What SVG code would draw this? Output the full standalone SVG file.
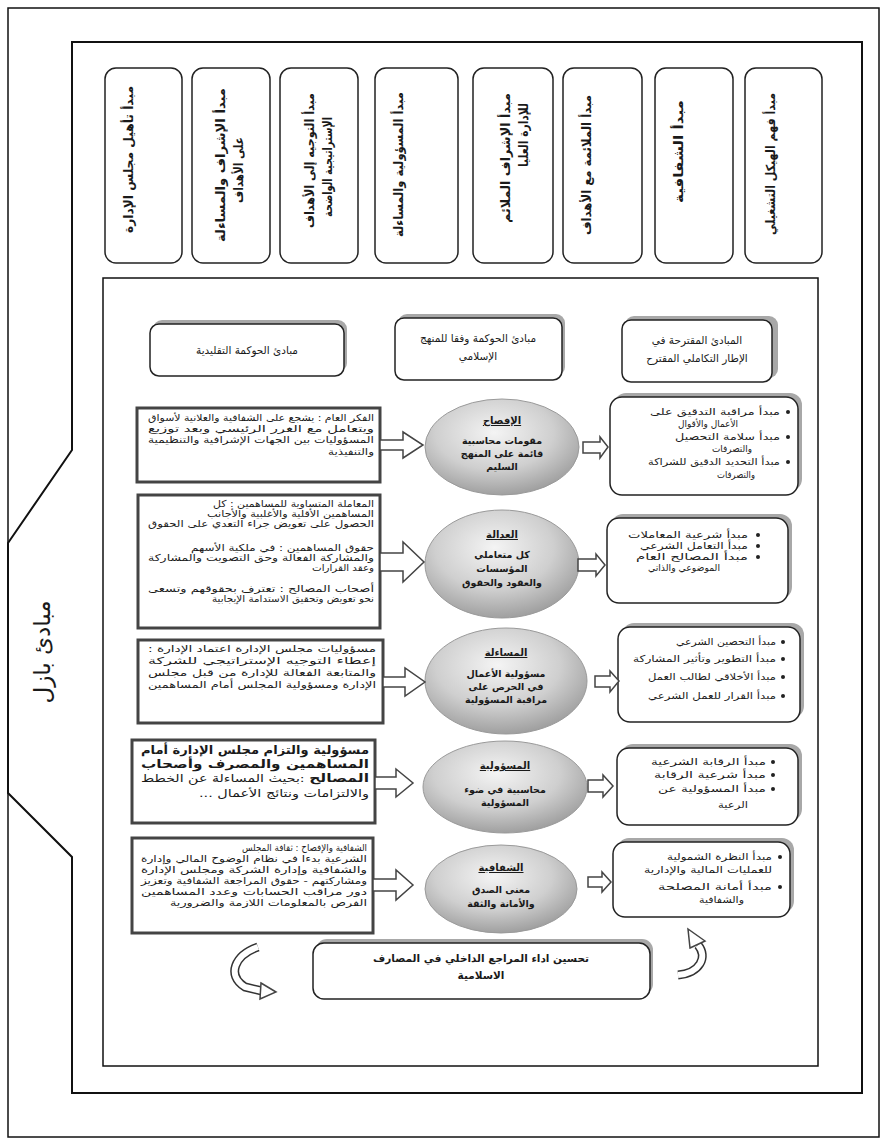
<svg xmlns="http://www.w3.org/2000/svg" width="887" height="1144" viewBox="0 0 887 1144">
<style>
text{font-family:"DejaVu Sans","Noto Sans",sans-serif;direction:rtl;fill:#1a1a1a}
.vt{font-size:12.5px;font-weight:bold;text-anchor:start}
.hd{font-size:10.5px;text-anchor:middle}
.et{font-size:9.5px;font-weight:bold;text-anchor:middle}
.eh{font-size:10px;font-weight:bold;text-anchor:middle;text-decoration:underline}
.bt{font-size:9.5px;text-anchor:start}
.lt{font-size:9.5px;text-anchor:start}
.lb{font-size:11.5px;font-weight:bold;text-anchor:start}
.tb{fill:#fff;stroke:#222;stroke-width:1.5}
.sh{fill:#a8a8a8}
.lbx{fill:#fff;stroke:#444;stroke-width:3}
.ar{fill:#fff;stroke:#444;stroke-width:1.5;stroke-linejoin:miter}
.ell{fill:url(#eg);stroke:#9a9a9a;stroke-width:1}
.bul{fill:#222}
</style>
<defs>
<radialGradient id="eg" cx="45%" cy="35%" r="70%">
<stop offset="0" stop-color="#f4f4f4"/>
<stop offset="0.55" stop-color="#cfcfcf"/>
<stop offset="1" stop-color="#979797"/>
</radialGradient>
</defs>
<rect width="887" height="1144" fill="#fff"/>
<g id="frame" fill="none" stroke="#111">
<rect x="8" y="8" width="871" height="1129" stroke-width="1.5"/>
<path d="M72,42 H862 V1093 H72 V857 L8,793 V543 L72,450 Z" stroke-width="2"/>
<rect x="103" y="278" width="715" height="788" stroke-width="1.5"/>
</g>
<g id="basel-label"><text transform="translate(50,652) rotate(-90)" style="font-size:23px;text-anchor:middle">مبادئ بازل</text></g>
<g id="top-principles">
<g id="p1"><rect class="tb" x="105" y="68" width="77" height="195" rx="11"/><text class="vt" transform="translate(133,86) rotate(-90)" textLength="147" lengthAdjust="spacingAndGlyphs">مبدأ تأهيل مجلس الإدارة</text></g>
<g id="p2"><rect class="tb" x="192" y="68" width="78" height="195" rx="11"/><text class="vt" transform="translate(225,88) rotate(-90)" textLength="154" lengthAdjust="spacingAndGlyphs">مبدأ الإشراف والمساءلة</text><text class="vt" transform="translate(243,137) rotate(-90)" textLength="66" lengthAdjust="spacingAndGlyphs">على الأهداف</text></g>
<g id="p3"><rect class="tb" x="280" y="68" width="78" height="195" rx="11"/><text class="vt" transform="translate(314,93) rotate(-90)" textLength="135" lengthAdjust="spacingAndGlyphs">مبدأ التوجيه إلى الأهداف</text><text class="vt" transform="translate(332,117) rotate(-90)" textLength="100" lengthAdjust="spacingAndGlyphs">الإستراتيجية الواضحة</text></g>
<g id="p4"><rect class="tb" x="375" y="68" width="83" height="195" rx="11"/><text class="vt" transform="translate(403,92) rotate(-90)" textLength="145" lengthAdjust="spacingAndGlyphs">مبدأ المسؤولية والمساءلة</text></g>
<g id="p5"><rect class="tb" x="473" y="68" width="80" height="195" rx="11"/><text class="vt" transform="translate(510,93) rotate(-90)" textLength="130" lengthAdjust="spacingAndGlyphs">مبدأ الإشراف الملائم</text><text class="vt" transform="translate(528,103) rotate(-90)" textLength="64" lengthAdjust="spacingAndGlyphs">للإدارة العليا</text></g>
<g id="p6"><rect class="tb" x="563" y="68" width="79" height="195" rx="11"/><text class="vt" transform="translate(591,95) rotate(-90)" textLength="140" lengthAdjust="spacingAndGlyphs">مبدأ الملائمة مع الأهداف</text></g>
<g id="p7"><rect class="tb" x="655" y="68" width="78" height="195" rx="11"/><text class="vt" transform="translate(683,100) rotate(-90)" textLength="103" lengthAdjust="spacingAndGlyphs">مبدأ الشفافية</text></g>
<g id="p8"><rect class="tb" x="745" y="68" width="77" height="195" rx="11"/><text class="vt" transform="translate(775,93) rotate(-90)" textLength="142" lengthAdjust="spacingAndGlyphs">مبدأ فهم الهيكل التشغيلي</text></g>
</g>
<g id="headers">
<g id="h-traditional"><rect class="sh" x="153" y="320" width="194" height="52" rx="9"/><rect class="tb" x="150" y="324" width="194" height="52" rx="9"/><text class="hd" x="247" y="354">مبادئ الحوكمة التقليدية</text></g>
<g id="h-islamic"><rect class="sh" x="398" y="314" width="167" height="62" rx="9"/><rect class="tb" x="395" y="318" width="167" height="62" rx="9"/><text class="hd" x="478" y="342">مبادئ الحوكمة وفقا للمنهج</text><text class="hd" x="478" y="360">الإسلامي</text></g>
<g id="h-proposed"><rect class="sh" x="625" y="316" width="153" height="62" rx="9"/><rect class="tb" x="622" y="320" width="150" height="62" rx="9"/><text class="hd" x="697" y="344">المبادئ المقترحة في</text><text class="hd" x="697" y="362">الإطار التكاملي المقترح</text></g>
</g>
<g id="left-boxes">
<g id="l1"><rect class="lbx" x="137" y="408" width="243" height="74"/>
<text class="lt" x="374" y="421" textLength="226" lengthAdjust="spacingAndGlyphs">الفكر العام : يشجع على الشفافية والعلانية لأسواق</text>
<text class="lt" x="374" y="432" textLength="226" lengthAdjust="spacingAndGlyphs">ويتعامل مع الغرر الرئيسي وبعد توزيع</text>
<text class="lt" x="374" y="443" textLength="226" lengthAdjust="spacingAndGlyphs">المسؤوليات بين الجهات الإشرافية والتنظيمية</text>
<text class="lt" x="374" y="455" textLength="46" lengthAdjust="spacingAndGlyphs">والتنفيذية</text></g>
<g id="l2"><rect class="lbx" x="138" y="495" width="242" height="133"/>
<text class="lt" x="374" y="507" textLength="161" lengthAdjust="spacingAndGlyphs">المعاملة المتساوية للمساهمين : كل</text>
<text class="lt" x="374" y="517" textLength="167" lengthAdjust="spacingAndGlyphs">المساهمين الأقلية والأغلبية والأجانب</text>
<text class="lt" x="374" y="527" textLength="226" lengthAdjust="spacingAndGlyphs">الحصول على تعويض جراء التعدي على الحقوق</text>
<text class="lt" x="374" y="551" textLength="183" lengthAdjust="spacingAndGlyphs">حقوق المساهمين : في ملكية الأسهم</text>
<text class="lt" x="374" y="561" textLength="226" lengthAdjust="spacingAndGlyphs">والمشاركة الفعالة وحق التصويت والمشاركة</text>
<text class="lt" x="374" y="571" textLength="62" lengthAdjust="spacingAndGlyphs">وعقد القرارات</text>
<text class="lt" x="374" y="592" textLength="226" lengthAdjust="spacingAndGlyphs">أصحاب المصالح : تعترف بحقوقهم وتسعى</text>
<text class="lt" x="374" y="602" textLength="162" lengthAdjust="spacingAndGlyphs">نحو تعويض وتحقيق الاستدامة الإيجابية</text></g>
<g id="l3"><rect class="lbx" x="138" y="640" width="245" height="83"/>
<text class="lt" x="376" y="652" textLength="228" lengthAdjust="spacingAndGlyphs">مسؤوليات مجلس الإدارة اعتماد الإدارة :</text>
<text class="lt" x="376" y="664" textLength="228" lengthAdjust="spacingAndGlyphs">إعطاء التوجيه الإستراتيجي للشركة</text>
<text class="lt" x="376" y="676" textLength="228" lengthAdjust="spacingAndGlyphs">والمتابعة الفعالة للإدارة من قبل مجلس</text>
<text class="lt" x="376" y="688" textLength="228" lengthAdjust="spacingAndGlyphs">الإدارة ومسؤولية المجلس أمام المساهمين</text></g>
<g id="l4"><rect class="lbx" x="132" y="740" width="243" height="83"/>
<text class="lb" x="369" y="754" textLength="228" lengthAdjust="spacingAndGlyphs">مسؤولية والتزام مجلس الإدارة أمام</text>
<text class="lb" x="369" y="768" textLength="228" lengthAdjust="spacingAndGlyphs">المساهمين والمصرف وأصحاب</text>
<text class="lt" x="369" y="782" style="font-size:10.5px" textLength="228" lengthAdjust="spacingAndGlyphs"><tspan font-weight="bold" font-size="11.5">المصالح</tspan> :بحيث المساءلة عن الخطط</text>
<text class="lt" x="369" y="797" style="font-size:10.5px" textLength="170" lengthAdjust="spacingAndGlyphs">والالتزامات ونتائج الأعمال ...</text></g>
<g id="l5"><rect class="lbx" x="132" y="838" width="241" height="95"/>
<text class="lt" x="367" y="851" textLength="125" lengthAdjust="spacingAndGlyphs">الشفافية والإفصاح : ثقافة المجلس</text>
<text class="lt" x="367" y="862" textLength="226" lengthAdjust="spacingAndGlyphs">الشرعية بدءا في نظام الوضوح المالي وإدارة</text>
<text class="lt" x="367" y="873" textLength="226" lengthAdjust="spacingAndGlyphs">والشفافية وإدارة الشركة ومجلس الإدارة</text>
<text class="lt" x="367" y="884" textLength="226" lengthAdjust="spacingAndGlyphs">ومشاركتهم - حقوق المراجعة الشفافية وتعزيز</text>
<text class="lt" x="367" y="895" textLength="226" lengthAdjust="spacingAndGlyphs">دور مراقب الحسابات وعدد المساهمين</text>
<text class="lt" x="367" y="906" textLength="197" lengthAdjust="spacingAndGlyphs">الفرص بالمعلومات اللازمة والضرورية</text></g>
</g>
<g id="ellipses">
<g id="e1"><ellipse class="ell" cx="502" cy="447" rx="77" ry="48"/><text class="eh" x="502" y="424">الإفصاح</text><text class="et" x="502" y="444">مقومات محاسبية</text><text class="et" x="502" y="457">قائمة على المنهج</text><text class="et" x="502" y="470">السليم</text></g>
<g id="e2"><ellipse class="ell" cx="502" cy="564" rx="77" ry="54"/><text class="eh" x="502" y="538">العدالة</text><text class="et" x="502" y="558">كل متعاملي</text><text class="et" x="502" y="572">المؤسسات</text><text class="et" x="502" y="586">والعقود والحقوق</text></g>
<g id="e3"><ellipse class="ell" cx="506" cy="681" rx="81" ry="53"/><text class="eh" x="506" y="656">المساءلة</text><text class="et" x="506" y="677">مسؤولية الأعمال</text><text class="et" x="506" y="690">في الحرص على</text><text class="et" x="506" y="703">مراقبة المسؤولية</text></g>
<g id="e4"><ellipse class="ell" cx="505" cy="787" rx="82" ry="46"/><text class="eh" x="505" y="769">المسؤولية</text><text class="et" x="505" y="793">محاسبية في ضوء</text><text class="et" x="505" y="806">المسؤولية</text></g>
<g id="e5"><ellipse class="ell" cx="501" cy="889" rx="76" ry="44"/><text class="eh" x="501" y="871">الشفافية</text><text class="et" x="501" y="893">معنى الصدق</text><text class="et" x="501" y="907">والأمانة والثقة</text></g>
</g>
<g id="right-boxes">
<g id="r1"><rect class="sh" x="614" y="393" width="188" height="98" rx="12"/><rect class="tb" x="610" y="397" width="188" height="98" rx="12"/>
<circle class="bul" cx="788" cy="412" r="2"/><text class="bt" x="780" y="415" textLength="130" lengthAdjust="spacingAndGlyphs">مبدأ مراقبة التدقيق على</text><text class="bt" x="738" y="427" textLength="60" lengthAdjust="spacingAndGlyphs">الأعمال والأقوال</text>
<circle class="bul" cx="788" cy="437" r="2"/><text class="bt" x="780" y="440" textLength="105" lengthAdjust="spacingAndGlyphs">مبدأ سلامة التحصيل</text><text class="bt" x="752" y="452" textLength="40" lengthAdjust="spacingAndGlyphs">والتصرفات</text>
<circle class="bul" cx="788" cy="462" r="2"/><text class="bt" x="780" y="465" textLength="132" lengthAdjust="spacingAndGlyphs">مبدأ التحديد الدقيق للشراكة</text><text class="bt" x="755" y="478" textLength="38" lengthAdjust="spacingAndGlyphs">والتصرفات</text></g>
<g id="r2"><rect class="sh" x="611" y="514" width="181" height="85" rx="12"/><rect class="tb" x="607" y="518" width="181" height="85" rx="12"/>
<circle class="bul" cx="758" cy="535" r="2"/><text class="bt" x="748" y="538" textLength="120" lengthAdjust="spacingAndGlyphs">مبدأ شرعية المعاملات</text>
<circle class="bul" cx="758" cy="546" r="2"/><text class="bt" x="748" y="549" textLength="108" lengthAdjust="spacingAndGlyphs">مبدأ التعامل الشرعي</text>
<circle class="bul" cx="758" cy="557" r="2"/><text class="bt" x="748" y="560" textLength="112" lengthAdjust="spacingAndGlyphs">مبدأ المصالح العام</text><text class="bt" x="720" y="571" textLength="72" lengthAdjust="spacingAndGlyphs">الموضوعي والذاتي</text></g>
<g id="r3"><rect class="sh" x="622" y="623" width="182" height="95" rx="12"/><rect class="tb" x="618" y="627" width="182" height="95" rx="12"/>
<circle class="bul" cx="783" cy="642" r="2"/><text class="bt" x="776" y="645" textLength="100" lengthAdjust="spacingAndGlyphs">مبدأ التحصين الشرعي</text>
<circle class="bul" cx="783" cy="659" r="2"/><text class="bt" x="776" y="662" textLength="143" lengthAdjust="spacingAndGlyphs">مبدأ التطوير وتأثير المشاركة</text>
<circle class="bul" cx="783" cy="677" r="2"/><text class="bt" x="776" y="680" textLength="128" lengthAdjust="spacingAndGlyphs">مبدأ الأخلاقي لطالب العمل</text>
<circle class="bul" cx="783" cy="696" r="2"/><text class="bt" x="776" y="699" textLength="128" lengthAdjust="spacingAndGlyphs">مبدأ القرار للعمل الشرعي</text></g>
<g id="r4"><rect class="sh" x="621" y="744" width="181" height="77" rx="12"/><rect class="tb" x="617" y="748" width="181" height="77" rx="12"/>
<circle class="bul" cx="773" cy="762" r="2"/><text class="bt" x="766" y="765" textLength="115" lengthAdjust="spacingAndGlyphs">مبدأ الرقابة الشرعية</text>
<circle class="bul" cx="773" cy="775" r="2"/><text class="bt" x="766" y="778" textLength="112" lengthAdjust="spacingAndGlyphs">مبدأ شرعية الرقابة</text>
<circle class="bul" cx="773" cy="789" r="2"/><text class="bt" x="766" y="792" textLength="108" lengthAdjust="spacingAndGlyphs">مبدأ المسؤولية عن</text><text class="bt" x="748" y="808" textLength="30" lengthAdjust="spacingAndGlyphs">الرعية</text></g>
<g id="r5"><rect class="sh" x="617" y="838" width="177" height="75" rx="12"/><rect class="tb" x="613" y="842" width="177" height="75" rx="12"/>
<circle class="bul" cx="780" cy="857" r="2"/><text class="bt" x="772" y="860" textLength="105" lengthAdjust="spacingAndGlyphs">مبدأ النظرة الشمولية</text><text class="bt" x="772" y="873" textLength="128" lengthAdjust="spacingAndGlyphs">للعمليات المالية والإدارية</text>
<circle class="bul" cx="780" cy="887" r="2"/><text class="bt" x="772" y="890" textLength="114" lengthAdjust="spacingAndGlyphs">مبدأ أمانة المصلحة</text><text class="bt" x="744" y="903" textLength="45" lengthAdjust="spacingAndGlyphs">والشفافية</text></g>
</g>
<g id="outcome"><rect class="sh" x="316" y="939" width="337" height="56" rx="11"/><rect class="tb" x="313" y="943" width="337" height="56" rx="11"/><text class="hd" x="481" y="962" style="font-weight:bold">تحسين اداء المراجع الداخلي في المصارف</text><text class="hd" x="481" y="979" style="font-weight:bold">الاسلامية</text></g>
<g id="connectors">
<polygon class="ar" points="380,440 403,440 403,432 423,445 403,458 403,450 380,450"/>
<polygon class="ar" points="380,553 403,553 403,542 424,562 403,582 403,571 380,571"/>
<polygon class="ar" points="383,677 405,677 405,668 425,682 405,696 405,687 383,687"/>
<polygon class="ar" points="375,777 396,777 396,769 413,783 396,797 396,789 375,789"/>
<polygon class="ar" points="373,879 396,879 396,870 413,885 396,900 396,891 373,891"/>
<polygon class="ar" points="583,442 600,442 600,437 608,447 600,458 600,453 583,453"/>
<polygon class="ar" points="578,559 596,559 596,554 605,565 596,576 596,571 578,571"/>
<polygon class="ar" points="595,676 610,676 610,671 619,681 610,692 610,687 595,687"/>
<polygon class="ar" points="588,780 603,780 603,775 613,786 603,797 603,792 588,792"/>
<polygon class="ar" points="588,877 602,877 602,872 611,882 602,892 602,887 588,887"/>
<g id="curve-left">
<path d="M258,947 C235,955 226,975 245,987 L262,991" fill="none" stroke="#333" stroke-width="9"/>
<path d="M258,947 C235,955 226,975 245,987 L262,991" fill="none" stroke="#fff" stroke-width="6"/>
<polygon class="ar" points="261,983 276,992 260,999"/>
</g>
<g id="curve-right">
<path d="M678,975 C700,973 708,957 698,945" fill="none" stroke="#333" stroke-width="9"/>
<path d="M678,975 C700,973 708,957 698,945" fill="none" stroke="#fff" stroke-width="6"/>
<polygon class="ar" points="690,948 705,941 688,929"/>
</g>
</g>
</svg>
